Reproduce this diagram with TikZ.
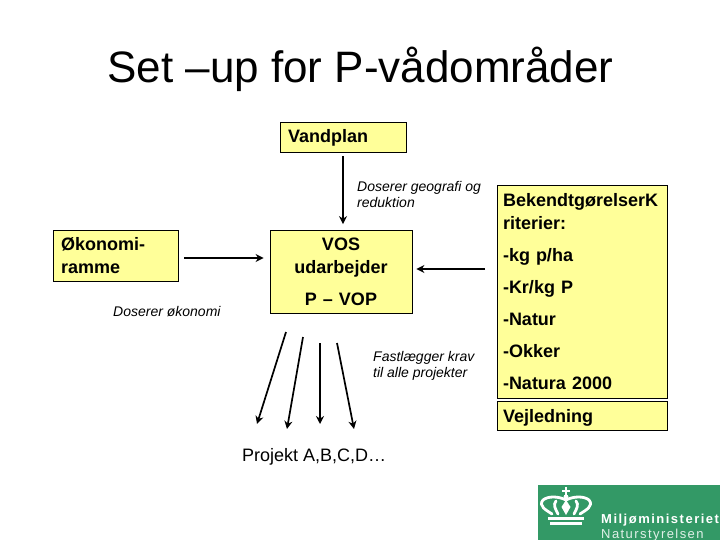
\documentclass[tikz,border=0pt]{standalone}
\usepackage{fontspec}
\setmainfont{Liberation Sans}
\usetikzlibrary{positioning,arrows.meta,calc}
\definecolor{boxyellow}{HTML}{FFFF99}
\definecolor{logogreen}{HTML}{339966}
\tikzset{
  yellowbox/.style={draw=black,fill=boxyellow,line width=0.8pt,inner sep=0pt,align=left,font=\bfseries\fontsize{18}{22.5}\selectfont},
  notetext/.style={inner sep=0pt,align=left,font=\itshape\fontsize{14}{16.5}\selectfont},
  planarrow/.style={-{Stealth[length=8pt,width=8pt]},line width=1.7pt},
  logotext/.style={inner sep=0pt,anchor=base west,text=white},
  crownline/.style={draw=white,line width=2.8pt,line cap=round},
}

\begin{document}
\begin{tikzpicture}[x=1pt,y=-1pt]

\useasboundingbox (0,0) rectangle (720,540);

\node[inner sep=0pt,anchor=base,font=\fontsize{44}{50}\selectfont] (title) at (360.5,83)
{Set –up for P-vådområder};

\node[yellowbox,minimum width=126pt,minimum height=30pt,text width=110pt,text height=13pt,text depth=1pt] (vandplan) at (343,137)
{Vandplan};

\node[yellowbox,minimum width=142pt,minimum height=83pt,align=center,text width=142pt] (vos) at (341,272)
{VOS\\udarbejder\\[10pt]P – VOP};

\node[yellowbox,minimum width=125pt,minimum height=51pt,text width=109pt] (oekonomi) at (115.5,255.5)
{Økonomi-\\ramme};

\node[yellowbox,minimum width=170pt,minimum height=213pt,text width=158pt] (kriterier) at (582,291.5)
{BekendtgørelserK\\[1pt]riterier:\\[9pt]-kg p/ha\\[9.5pt]-Kr/kg P\\[9.5pt]-Natur\\[9.5pt]-Okker\\[9.5pt]-Natura 2000};

\node[yellowbox,minimum width=170pt,minimum height=29pt,text width=158pt,text height=13pt,text depth=1pt,below=3pt of kriterier] (vejledning)
{Vejledning};

\node[notetext,anchor=north west] (geografi) at (357,181)
{Doserer geografi og\\reduktion};

\node[notetext,anchor=north west] (oekonominote) at (113,306)
{Doserer økonomi};

\node[notetext,anchor=north west] (krav) at (373,351)
{Fastlægger krav\\til alle projekter};

\node[inner sep=0pt,anchor=base west,font=\fontsize{18}{22}\selectfont] (projekt) at (242,461)
{Projekt A,B,C,D…};

\coordinate (kravin) at (485,269);
\coordinate (pa) at (286,332);
\coordinate (pb) at (303,337);
\coordinate (pc) at (320,343);
\coordinate (pd) at (337,343);
\coordinate (qa) at (257,424);
\coordinate (qb) at (287,429);
\coordinate (qc) at (320,424);
\coordinate (qd) at (354,429);

\draw[planarrow,shorten <=4pt,shorten >=6pt] (vandplan.south) -- (vandplan.south |- vos.north);
\draw[planarrow,shorten <=6pt,shorten >=6pt] ($(oekonomi.east)+(0,2.5)$) -- ($(oekonomi.east -| vos.west)+(0,2.5)$);
\draw[planarrow,shorten >=4pt] (kravin) -- (kravin -| vos.east);
\draw[planarrow] (pa) -- (qa);
\draw[planarrow] (pb) -- (qb);
\draw[planarrow] (pc) -- (qc);
\draw[planarrow] (pd) -- (qd);

\fill[logogreen] (538,485) rectangle (720,540);

\fill[white] (548,517) rectangle (584,520);
\fill[white] (550,522) rectangle (582,524.5);
\draw[crownline] (552,514) .. controls (546,510) and (538,506) .. (543,500) .. controls (548,496) and (558,496) .. (566,500);
\draw[crownline] (580,514) .. controls (586,510) and (594,506) .. (589,500) .. controls (584,496) and (574,496) .. (566,500);
\draw[crownline] (558,514) .. controls (555,508) and (553,505) .. (556,501);
\draw[crownline] (574,514) .. controls (577,508) and (579,505) .. (576,501);
\fill[white] (566,500) -- (570.5,507) -- (566,515) -- (561.5,507) -- cycle;
\fill[white] (566,497) circle (2.5pt);
\fill[white] (565,487) rectangle (567,495);
\fill[white] (562,490) rectangle (570,492);

\node[logotext,font=\bfseries\fontsize{13}{15}\selectfont\addfontfeature{LetterSpace=11.5}] (ministeriet) at (601,523)
{Miljøministeriet};

\node[logotext,text=white!85!logogreen,font=\fontsize{13}{15}\selectfont\addfontfeature{LetterSpace=11}] (styrelsen) at (601,538)
{Naturstyrelsen};

\end{tikzpicture}
\end{document}
